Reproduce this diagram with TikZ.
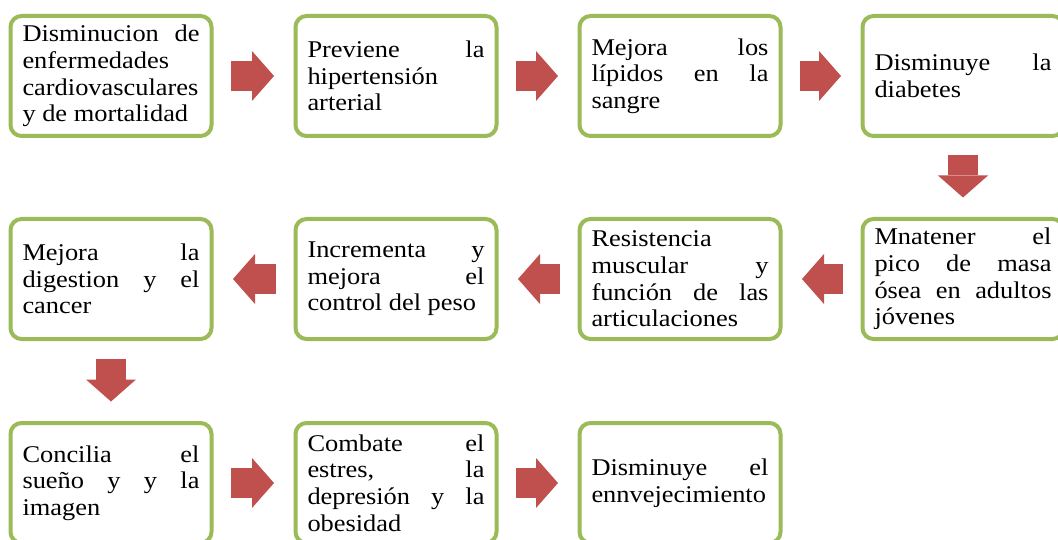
\documentclass[tikz,border=0pt]{standalone}
\usepackage{fontspec}
\setmainfont{Liberation Serif}[FakeStretch=1.1]
\usetikzlibrary{arrows.meta}
\definecolor{verdecaja}{HTML}{9BBB59}
\definecolor{rojoflecha}{HTML}{C0504D}
\hyphenpenalty=10000
\tikzset{
  paso/.style={draw=verdecaja, line width=4pt, rounded corners=11pt, fill=white,
    minimum width=201pt, minimum height=120pt, text width=177pt, align=justify,
    inner sep=0pt, outer sep=0pt, font={\fontsize{24}{26.6}\selectfont}},
  flecha/.style={rojoflecha, line width=30pt, shorten <=19.5pt, shorten >=21.5pt,
    -{Triangle[length=22pt,width=50pt,line width=0pt]}}
}
\begin{document}
\begin{tikzpicture}[x=1pt,y=-1pt]
\path[use as bounding box, fill=white] (0,0) rectangle (1058,540);
\clip (0,0) rectangle (1058,540);

% fila 1
\node[paso] (dism) at (111,76) {Disminucion de\linebreak enfermedades\linebreak cardiovasculares\linebreak y de mortalidad};
\node[paso] (prev) at (396,76) {Previene la\linebreak hipertensión\linebreak arterial};
\node[paso] (lipi) at (680,76) {Mejora los\linebreak lípidos en la\linebreak sangre};
\node[paso] (diab) at (963,76) {Disminuye la\linebreak diabetes};

% fila 2
\node[paso] (dige) at (111,279) {Mejora la\linebreak digestion y el\linebreak cancer};
\node[paso] (peso) at (396,279) {Incrementa y\linebreak mejora el\linebreak control del peso};
\node[paso] (resi) at (680,279) {Resistencia\linebreak muscular y\linebreak función de las\linebreak articulaciones};
\node[paso] (mant) at (963,279) {Mnatener el\linebreak pico de masa\linebreak ósea en adultos\linebreak jóvenes};

% fila 3
\node[paso] (suen) at (111,483) {Concilia el\linebreak sueño y y la\linebreak imagen};
\node[paso] (estr) at (396,483) {Combate el\linebreak estres, la\linebreak depresión y la\linebreak obesidad};
\node[paso] (enve) at (680,483) {Disminuye el\linebreak ennvejecimiento};

\draw[flecha] (dism) -- (prev);
\draw[flecha] (prev) -- (lipi);
\draw[flecha] (lipi) -- (diab);
\draw[flecha] (diab) -- (mant);
\draw[flecha] (mant) -- (resi);
\draw[flecha] (resi) -- (peso);
\draw[flecha] (peso) -- (dige);
\draw[flecha] (dige) -- (suen);
\draw[flecha] (suen) -- (estr);
\draw[flecha] (estr) -- (enve);
\end{tikzpicture}
\end{document}
